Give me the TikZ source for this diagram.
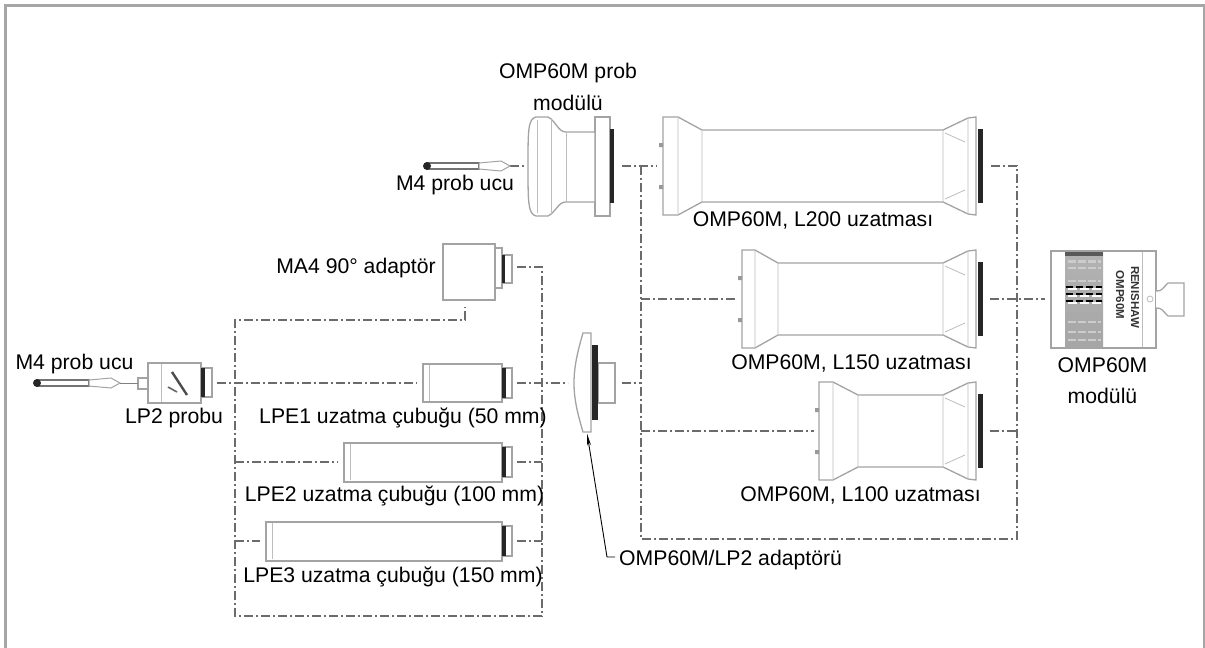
\documentclass[tikz,border=0pt]{standalone}
\usepackage{fontspec}
\setmainfont{Liberation Sans}
\usetikzlibrary{arrows.meta}

\begin{document}
\begin{tikzpicture}[
    x=1pt, y=-1pt,
    frame/.style={draw=black!35, line width=3pt},
    part/.style={rectangle, draw=black!36, line width=1.3pt, inner sep=0pt, fill=white},
    partline/.style={draw=black!26, line width=0.8pt},
    ring/.style={draw=none, fill=black!85},
    link/.style={draw=black!58, line width=1.4pt, dash pattern=on 9pt off 3pt on 2pt off 3pt},
    label/.style={font=\fontsize{21.2}{25}\selectfont, inner sep=0pt, text height=15pt, text depth=4pt},
    brandtext/.style={font=\fontsize{11.5}{12}\bfseries, rotate=-90, inner sep=0pt, text=black!80},
    pointer/.style={-{Stealth[length=12pt, width=4pt]}, draw=black, line width=0.9pt}
]
    \useasboundingbox (0,0) rectangle (1205,648);
    \coordinate (framea) at (5,648);
    \coordinate (frameb) at (5,5.5);
    \coordinate (framec) at (1204,5.5);
    \coordinate (framed) at (1204,648);
    \draw[frame] (framea) -- (frameb) -- (framec) -- (framed);

    % connectors first
    \coordinate (topleft) at (235,320);
    \coordinate (botleft) at (235,616);
    \coordinate (botright) at (542,616);
    \coordinate (topright) at (542,267);
    \coordinate (maout) at (517,267);
    \coordinate (maup) at (465,307);
    \coordinate (macorner) at (465,320);
    \draw[link] (maout) -- (topright) -- (botright) -- (botleft) -- (topleft) -- (macorner) -- (maup);
    \foreach \a/\b/\c in {217/417/383, 235/338/462, 235/260/541, 517/542/462, 517/542/541, 517/568/383, 622/641/383} {
        \coordinate (la) at (\a,\c);
        \coordinate (lb) at (\b,\c);
        \draw[link] (la) -- (lb);
    }
    \coordinate (upjoin) at (641,166);
    \coordinate (lowleft) at (641,539);
    \coordinate (lowright) at (1017,539);
    \coordinate (upright) at (1017,166);
    \coordinate (l200out) at (990,166);
    \draw[link] (upjoin) -- (lowleft) -- (lowright) -- (upright) -- (l200out);
    \foreach \a/\b/\c in {622/657/166, 641/736/299, 641/814/431, 990/1017/431, 990/1045/299, 510/527/166} {
        \coordinate (la) at (\a,\c);
        \coordinate (lb) at (\b,\c);
        \draw[link] (la) -- (lb);
    }

    % extensions
    \foreach \name/\lx/\fx/\nx/\cy in {ltwo/663/678/702/166, lone/742/755/778/299, lhun/819/833/858/431} {
        \draw[part] (\lx,\cy-49) -- (\fx,\cy-49) -- (\nx,\cy-36) -- (943,\cy-36) -- (968,\cy-48) -- (976,\cy-49)
            -- (976,\cy+49) -- (968,\cy+48) -- (943,\cy+36) -- (\nx,\cy+36) -- (\fx,\cy+49) -- (\lx,\cy+49) -- cycle;
        \draw[partline] (\fx,\cy-49) -- (\fx,\cy+49) (\nx,\cy-36) -- (\nx,\cy+36) (943,\cy-36) -- (943,\cy+36)
            (968,\cy-48) -- (968,\cy+48) (945,\cy-33) -- (965,\cy-24) (945,\cy+33) -- (965,\cy+24);
        \fill[ring] (978,\cy-37) rectangle (983,\cy+37);
        \fill[black!40] (\lx-4,\cy-23) rectangle (\lx,\cy-19) (\lx-4,\cy+19) rectangle (\lx,\cy+23);
        \node[inner sep=0pt] (\name) at (\lx,\cy) {};
    }

    % probe module
    \draw[part] (595,117) rectangle (610,216);
    \draw[part] (536,117) .. controls (528,119) and (528,130) .. (528,166) .. controls (528,202) and (528,214) .. (536,216)
        -- (548,216) .. controls (556,212) and (558,202) .. (566,202) -- (595,202) -- (595,132) -- (566,132)
        .. controls (558,132) and (556,121) .. (548,117) -- cycle;
    \draw[partline] (537,120) -- (537,213) (551,118) -- (551,215) (566,132) -- (566,202);
    \fill[ring] (610,129) rectangle (614,203);
    \node[inner sep=0pt] (probmod) at (570,166) {};

    % adapter
    \draw[part] (598,363) rectangle (615,403);
    \draw[part] (583,333) -- (591,333) -- (591,432) -- (583,432) .. controls (578,415) and (574,400) .. (574,383) .. controls (574,366) and (578,350) .. (583,333) -- cycle;
    \fill[ring] (592,345) rectangle (598,420);
    \node[inner sep=0pt] (adapter) at (587,433) {};

    % rods
    \node[part, minimum width=79pt, minimum height=38pt] (lpeone) at (462.5,383) {};
    \node[part, minimum width=158pt, minimum height=39pt] (lpetwo) at (423,462.5) {};
    \node[part, minimum width=236pt, minimum height=39pt] (lpethree) at (384,541.5) {};
    \node[part, minimum width=52pt, minimum height=56pt] (mafour) at (469,272) {};
    \node[part, minimum width=53pt, minimum height=40pt] (lptwo) at (174.5,383) {};
    \foreach \lx/\cy in {429/383, 350/462, 272/541} {
        \draw[partline] (\lx,\cy-18) -- (\lx,\cy+18);
    }
    \draw[partline] (161,364) -- (161,402);
    \foreach \cy in {383, 462, 541} {
        \draw[part] (502,\cy-15) rectangle (512,\cy+15);
        \fill[ring] (502,\cy-15) rectangle (506,\cy+15);
    }
    \draw[part] (495,248) rectangle (502,288);
    \draw[part] (502,255) rectangle (512,283);
    \fill[ring] (502,255) rectangle (505,283);
    \draw[part] (201,368) rectangle (212,397);
    \fill[ring] (201,368) rectangle (205,397);
    \draw[part] (138,378) rectangle (148,389);
    \draw[line width=2.4pt, black!70] (172,372) -- (187,395);
    \draw[line width=1.6pt, black!60] (168,387) -- (177,392);

    % styluses
    \foreach \tx/\cy in {37/383, 427/166} {
        \draw[part, line width=1.2pt, draw=black!55] (\tx,\cy-3) rectangle (\tx+52,\cy+3);
        \draw[part, line width=1pt] (\tx+52,\cy-3) -- (\tx+74,\cy-5) -- (\tx+83,\cy) -- (\tx+74,\cy+5) -- (\tx+52,\cy+3) -- cycle;
        \fill[black!85] (\tx,\cy) circle (4);
    }
    \coordinate (tipin) at (120,383);
    \coordinate (tipout) at (138,383);
    \draw[black!50, line width=1pt] (tipin) -- (tipout);

    % module
    \node[part, minimum width=105pt, minimum height=97pt] (module) at (1103.5,299.5) {};
    \shade[top color=black!30, middle color=black!72, bottom color=black!35] (1065,252) rectangle (1103,347);
    \fill[black!65] (1065,252) rectangle (1103,256);
    \foreach \y/\w in {261/3, 268/2, 281/1.5, 322/2, 332/2, 340/2} {
        \draw[white!80!black, line width=\w pt, dash pattern=on 8pt off 2pt] (1068,\y) -- (1101,\y);
    }
    \foreach \y in {289, 296, 303} {
        \draw[black, line width=2pt, dash pattern=on 7pt off 3pt] (1066,\y-2.5) -- (1102,\y-2.5);
        \draw[white, line width=1.5pt, dash pattern=on 9pt off 3pt] (1068,\y) -- (1102,\y);
    }
    \draw[partline] (1142,252) -- (1142,347);
    \draw[partline] (1150,299) circle (3);
    \draw[part] (1156,291) .. controls (1162,291) and (1162,289) .. (1166,285) -- (1168,283) -- (1184,283) -- (1184,316) -- (1168,316) -- (1166,314)
        .. controls (1162,310) and (1162,308) .. (1156,308);
    \node[brandtext] (brand) at (1135,297) {RENISHAW};
    \node[brandtext] (model) at (1120,295) {OMP60M};

    % labels
    \node[label] (probmodtext) at (568,73) {OMP60M prob};
    \node[label] (probmodtexttwo) at (568,104.5) {modülü};
    \node[label] (tiptop) at (455,185) {M4 prob ucu};
    \node[label] (ltwotext) at (813,221) {OMP60M, L200 uzatması};
    \node[label] (matext) at (356,268) {MA4 90° adaptör};
    \node[label] (tipleft) at (74.5,364) {M4 prob ucu};
    \node[label] (lptext) at (174,418) {LP2 probu};
    \node[label] (lpeonetext) at (403,418) {LPE1 uzatma çubuğu (50 mm)};
    \node[label] (lpetwotext) at (394.5,496) {LPE2 uzatma çubuğu (100 mm)};
    \node[label] (lpethreetext) at (393,577) {LPE3 uzatma çubuğu (150 mm)};
    \node[label, anchor=west] (adaptertext) at (619,560) {OMP60M/LP2 adaptörü};
    \node[label] (lonetext) at (851.5,364) {OMP60M, L150 uzatması};
    \node[label] (lhuntext) at (860.5,496) {OMP60M, L100 uzatması};
    \node[label] (moduletext) at (1102.5,367) {OMP60M};
    \node[label] (moduletexttwo) at (1102.5,398) {modülü};

    \coordinate (hook) at (607,557);
    \draw[pointer] (adaptertext.west) ++(-4,-3) -- (hook) -- (adapter);
\end{tikzpicture}
\end{document}
